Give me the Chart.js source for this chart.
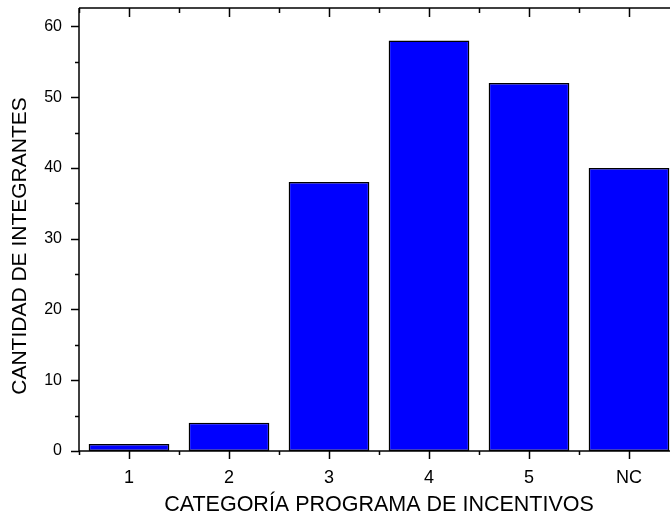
<!DOCTYPE html>
<html lang="es">
<head>
  <meta charset="UTF-8">
  <title>Categoría programa de incentivos</title>
  <script src="https://cdn.jsdelivr.net/npm/chart.js"></script>
  <style>
    body { margin: 0; overflow: hidden; background: #fff; }
  </style>
</head>
<body>
  <canvas id="barChart" width="700" height="524"></canvas>

  <script>
    // data
    const categories = ['1', '2', '3', '4', '5', 'NC'];
    const integrantes = [1, 4, 38, 58, 52, 40];
    const yTicks = [0, 10, 20, 30, 40, 50, 60];
    const yMinorTicks = [5, 15, 25, 35, 45, 55];
    const yTitle = 'CANTIDAD DE INTEGRANTES';
    const FONT = 'Liberation Sans, Arial, sans-serif';

    // frame + tick marks like the original plot
    const framePlugin = {
      id: 'frame',
      afterDraw(chart) {
        const ctx = chart.ctx;
        const a = chart.chartArea;
        const x = chart.scales.x;
        const y = chart.scales.y;
        ctx.save();
        ctx.strokeStyle = '#000';
        ctx.lineWidth = 1.5;
        ctx.beginPath();
        ctx.moveTo(a.left, a.top); ctx.lineTo(a.right, a.top);
        ctx.moveTo(a.left, a.top); ctx.lineTo(a.left, a.bottom);
        ctx.moveTo(a.left, a.bottom); ctx.lineTo(a.right, a.bottom);
        yTicks.forEach(v => {
          const py = Math.round(y.getPixelForValue(v)) + 0.5;
          ctx.moveTo(a.left - 8, py); ctx.lineTo(a.left, py);
        });
        yMinorTicks.forEach(v => {
          const py = Math.round(y.getPixelForValue(v)) + 0.5;
          ctx.moveTo(a.left - 4, py); ctx.lineTo(a.left, py);
        });
        categories.forEach((c, i) => {
          const px = Math.round(x.getPixelForValue(i)) + 0.5;
          ctx.moveTo(px, a.bottom); ctx.lineTo(px, a.bottom + 8);
          ctx.moveTo(px, a.top); ctx.lineTo(px, a.top + 9);
          const bx = Math.round(x.getPixelForValue(i - 0.5)) + 0.5;
          ctx.moveTo(bx, a.bottom); ctx.lineTo(bx, a.bottom + 4);
          ctx.moveTo(bx, a.top); ctx.lineTo(bx, a.top + 5);
        });
        ctx.stroke();

        // y axis title
        ctx.translate(20, 246);
        ctx.rotate(-Math.PI / 2);
        ctx.fillStyle = '#000';
        ctx.font = '21px ' + FONT;
        ctx.textAlign = 'center';
        ctx.textBaseline = 'middle';
        ctx.fillText(yTitle, 0, 0);
        ctx.restore();
      }
    };

    const ctx = document.getElementById('barChart').getContext('2d');
    new Chart(ctx, {
      type: 'bar',
      data: {
        labels: categories,
        datasets: [{
          data: integrantes,
          backgroundColor: '#0000ff',
          borderColor: '#000000',
          borderWidth: 1.5,
          borderSkipped: false,
          barPercentage: 0.807,
          categoryPercentage: 1.0
        }]
      },
      options: {
        responsive: false,
        animation: false,
        layout: { padding: { top: 8, right: 21, left: 0, bottom: 0 } },
        plugins: {
          legend: { display: false },
          tooltip: { enabled: false }
        },
        scales: {
          x: {
            grid: { display: false },
            border: { display: false },
            afterFit: s => { s.height = 73; s.paddingLeft = 0; s.paddingRight = 0; },
            ticks: {
              color: '#000',
              padding: 8,
              font: { family: FONT, size: 18 }
            },
            title: {
              display: true,
              text: 'CATEGORÍA PROGRAMA DE INCENTIVOS',
              color: '#000',
              padding: { top: 0, bottom: 6 },
              font: { family: FONT, size: 21.5 }
            }
          },
          y: {
            min: 0,
            max: 62.6,
            grid: { display: false },
            border: { display: false },
            afterFit: s => { s.width = 79; s.paddingTop = 0; s.paddingBottom = 0; },
            afterBuildTicks: s => { s.ticks = yTicks.map(v => ({ value: v })); },
            ticks: {
              color: '#000',
              padding: 9,
              font: { family: FONT, size: 16 }
            }
          }
        }
      },
      plugins: [framePlugin]
    });
  </script>
</body>
</html>
